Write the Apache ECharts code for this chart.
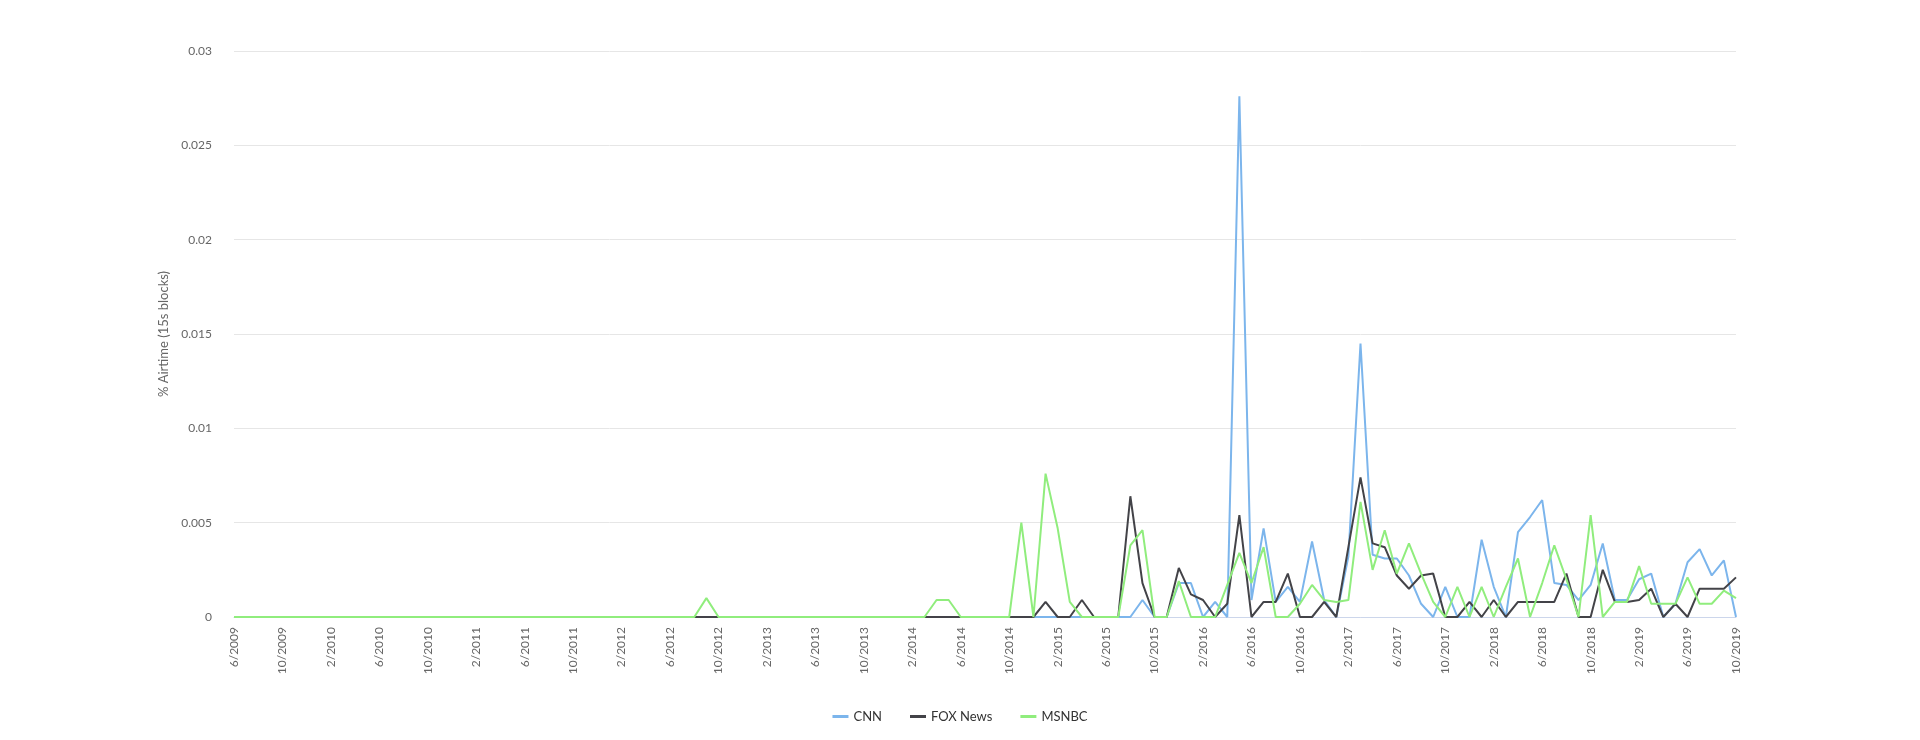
<!DOCTYPE html>
<html><head><meta charset="utf-8">
<script src="https://cdn.jsdelivr.net/npm/echarts@6/dist/echarts.min.js"></script>
<style>html,body{margin:0;padding:0;background:#fff}#c{width:1920px;height:740px}</style>
</head><body><div id="c"></div>
<script>
var n = null;
// months 6/2009 .. 10/2019
var categories = [];
for (var i = 0; i < 125; i++) { var m = 6 + i; var y = 2009 + Math.floor((m - 1) / 12); var mm = ((m - 1) % 12) + 1; categories.push(mm + '/' + y); }

var cnn = [
n,n,n,n,n,n,n,n,n,n, n,n,n,n,n,n,n,n,n,n, n,n,n,n,n,n,n,n,n,n,
n,n,n,n,n,n,n,n,n,n, n,n,n,n,n,n,n,n,n,n, n,n,n,n,n,n,n,n,n,n,
n,n,n,n,n,n,0,0,0,0,
0,0,0,0,0,0.0009,0,0,0.0018,0.0018,
0,0.0008,0,0.0276,0.0009,0.0047,0.0008,0.0016,0.0008,0.004,
0.0009,0,0.0032,0.0145,0.0033,0.0031,0.0031,0.0022,0.0007,0,
0.0016,0,0,0.0041,0.0016,0,0.0045,0.0053,0.0062,0.0018,
0.0017,0.0009,0.0017,0.0039,0.0009,0.0009,0.002,0.0023,0,0.0007,
0.0029,0.0036,0.0022,0.003,0
];
var fox = [
n,n,n,n,n,n,n,n,n,n, n,n,n,n,n,n,n,n,n,n, n,n,n,n,n,n,n,n,n,n,
n,n,n,n,n,n,n,n,0,0,
0,n,n,n,n,n,n,n,n,n,
n,n,n,n,n,n,n,0,0,0,
0,n,n,n,0,0,0,0.0008,0,0,
0.0009,0,n,0,0.0064,0.0018,0,0,0.0026,0.0012,
0.0009,0,0.0007,0.0054,0,0.0008,0.0008,0.0023,0,0,
0.0008,0,0.0037,0.0074,0.0039,0.0037,0.0022,0.0015,0.0022,0.0023,
0,0,0.0008,0,0.0009,0,0.0008,0.0008,0.0008,0.0008,
0.0023,0,0,0.0025,0.0008,0.0008,0.0009,0.0015,0,0.0007,
0,0.0015,0.0015,0.0015,0.0021
];
var msnbc = [
0,0,0,0,0,0,0,0,0,0, 0,0,0,0,0,0,0,0,0,0, 0,0,0,0,0,0,0,0,0,0,
0,0,0,0,0,0,0,0,0,0.001,
0,0,0,0,0,0,0,0,0,0,
0,0,0,0,0,0,0,0,0.0009,0.0009,
0,0,0,0,0,0.005,0,0.0076,0.0047,0.0008,
0,0,0,0,0.0038,0.0046,0,0,0.0019,0,
0,0,0.0017,0.0034,0.0018,0.0037,0,0,0.0007,0.0017,
0.0009,0.0008,0.0009,0.0061,0.0025,0.0046,0.0023,0.0039,0.0023,0.0008,
0,0.0016,0,0.0016,0,0.0016,0.0031,0,0.0018,0.0038,
0.002,0,0.0054,0,0.0008,0.0008,0.0027,0.0007,0.0007,0.0007,
0.0021,0.0007,0.0007,0.0014,0.001
];
var yTicks = [0, 0.005, 0.01, 0.015, 0.02, 0.025, 0.03];

var chart = echarts.init(document.getElementById('c'));
function ser(name, data, color) {
  return { name: name, type: 'line', data: data, showSymbol: false, symbol: 'none',
    lineStyle: { width: 2, color: color }, itemStyle: { color: color }, connectNulls: false, animation: false };
}
chart.setOption({
  animation: false,
  textStyle: { fontFamily: 'Lato' },
  grid: { left: 234, right: 184, top: 51, bottom: 123, containLabel: false },
  legend: { bottom: 12, left: 'center', itemWidth: 16, itemHeight: 3, itemGap: 28, icon: 'rect',
    textStyle: { color: '#333', fontSize: 13, fontFamily: 'Lato' },
    data: ['CNN', 'FOX News', 'MSNBC'] },
  xAxis: { type: 'category', data: categories, boundaryGap: false,
    axisLine: { lineStyle: { color: '#ccd6eb' } }, axisTick: { show: false },
    axisLabel: { interval: 3, rotate: 90, color: '#666', fontSize: 12, margin: 10 } },
  yAxis: { type: 'value', min: 0, max: 0.03, interval: 0.005,
    name: '% Airtime (15s blocks)', nameLocation: 'middle', nameGap: 62,
    nameTextStyle: { color: '#666', fontSize: 13 },
    axisLine: { show: false }, axisTick: { show: false },
    splitLine: { lineStyle: { color: '#e6e6e6' } },
    axisLabel: { color: '#666', fontSize: 12, margin: 22, formatter: function (v) { return String(+v.toFixed(3)); } } },
  series: [ser('CNN', cnn, '#7cb5ec'), ser('FOX News', fox, '#434348'), ser('MSNBC', msnbc, '#90ed7d')]
});
</script></body></html>
